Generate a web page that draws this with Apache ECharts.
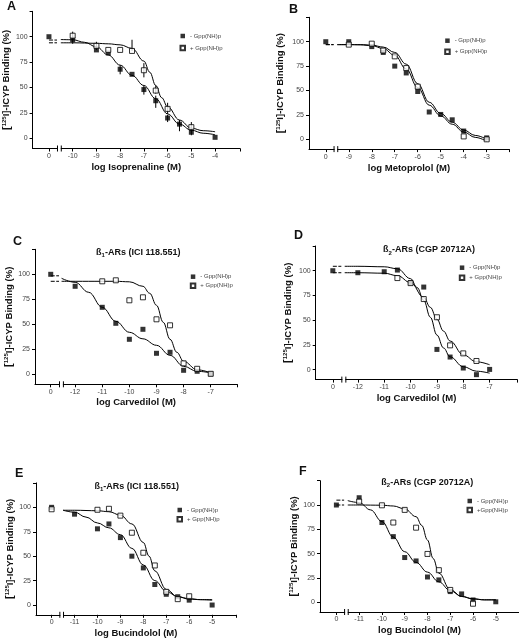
<!DOCTYPE html>
<html><head><meta charset="utf-8">
<script src="https://cdn.jsdelivr.net/npm/echarts@6/dist/echarts.min.js"></script>
<style>html,body{margin:0;padding:0;background:#fff}#c{width:519px;height:640px}</style>
</head><body><div id="c"></div><script>
// ---------- DATA ----------
// Panel A: Isoprenaline
const ticksA = [0, -10, -9, -8, -7, -6, -5, -4];
const minusA = [[0,100],[-10,97],[-9,87],[-8.5,84],[-8,68],[-7.5,63],[-7,48],[-6.5,37],[-6,20],[-5.5,14],[-5,6],[-4,1]];
const plusA = [[-10,101],[-9,91],[-8.5,87],[-8,87],[-7.5,86],[-7,67],[-6.5,47],[-6,29],[-5,11]];
const errMinusA = [[-10,93,101],[-8,63,72],[-7,43,52],[-6.5,30,42],[-6,16,23],[-5.5,7,18],[-5,3,8]];
const errPlusA = [[-10,97,105],[-9,87,95],[-7.5,86,97],[-7,60,74],[-6.5,44,52],[-6,24,35],[-5,7,16]];
const fitMinusA = [[-10.5,97.2],[-10,97],[-9.5,94.5],[-9,90],[-8.5,82],[-8,72],[-7.5,62],[-7,52],[-6.5,39],[-6,24],[-5.5,14],[-5,8],[-4.5,5],[-4,3.5]];
const fitPlusA = [[-10.5,94],[-10,94],[-9,93.5],[-8.5,93],[-8,92],[-7.5,88.5],[-7,76],[-6.75,65],[-6.5,52],[-6.25,40],[-6,31],[-5.5,18],[-5,10],[-4.5,7.5],[-4,6.5]];
const leadA = [96.7, 94];

// Panel B: Metoprolol
const ticksB = [0, -9, -8, -7, -6, -5, -4, -3];
const minusB = [[0,100],[-9,100],[-8,95],[-7.5,89],[-7,75],[-6.5,68],[-6,49],[-5.5,28],[-5,25.5],[-4.5,20],[-4,8.5],[-3,1.5]];
const plusB = [[-9,97],[-8,98],[-7.5,91],[-7,85],[-6.5,73],[-6,54],[-4,3],[-3,0]];
const fitMinusB = [[-9.5,97],[-9,97],[-8.5,96.8],[-8,96],[-7.5,93],[-7,86],[-6.5,72],[-6,53],[-5.5,35],[-5,24],[-4.5,15.5],[-4,7.5],[-3.5,2],[-3,-2]];
const fitPlusB = [[-9.5,97],[-9,97],[-8.5,97],[-8,96.5],[-7.5,94.5],[-7,89],[-6.5,77],[-6,57],[-5.5,38],[-5,26.5],[-4.5,17.5],[-4,9.5],[-3.5,4],[-3,0]];
const leadB = [97, 97];

// Panel C: Carvedilol, beta1
const ticksC = [0, -12, -11, -10, -9, -8, -7];
const minusC = [[0,100],[-12,88],[-11,67],[-10.5,51],[-10,35],[-9.5,45],[-9,21],[-8.5,22],[-8,4],[-7.5,3],[-7,0.5]];
const plusC = [[-11,93],[-10.5,94],[-10,74],[-9.5,77],[-9,55],[-8.5,49],[-8,11],[-7.5,5.5],[-7,0.5]];
const fitMinusC = [[-12.5,96],[-12,92],[-11.5,82],[-11,67],[-10.5,53],[-10,42],[-9.5,35.5],[-9,29],[-8.5,19],[-8,8],[-7.5,3],[-7,1.5]];
const fitPlusC = [[-12.5,93],[-12,93],[-11,93],[-10.5,93],[-10,92.5],[-9.5,88],[-9.25,81],[-9,69],[-8.75,52],[-8.5,35],[-8.25,22],[-8,13],[-7.5,4.5],[-7,1.5]];
const leadC = [98.5, 93];

// Panel D: Carvedilol, beta2
const ticksD = [0, -12, -11, -10, -9, -8, -7];
const minusD = [[0,100],[-12,98],[-11,99],[-10.5,100.7],[-10,88],[-9.5,83.5],[-9,20.5],[-8.5,12.8],[-8,1.7],[-7.5,-5],[-7,0.3]];
const plusD = [[-10.5,92.6],[-10,87.5],[-9.5,71.4],[-9,53],[-8.5,24.6],[-8,16.5],[-7.5,8.8]];
const fitMinusD = [[-12.5,104.5],[-12,104.5],[-11,104],[-10.5,102],[-10,92],[-9.75,83],[-9.5,70],[-9.25,53],[-9,35],[-8.75,22],[-8.5,13],[-8,3],[-7.5,-1.5],[-7,-3.5]];
const fitPlusD = [[-12.5,98],[-12,98],[-11,97.5],[-10.5,95],[-10,88],[-9.5,73],[-9.25,63],[-9,51],[-8.75,39],[-8.5,29],[-8,15],[-7.5,8],[-7,5]];
const leadD = [104.5, 98];

// Panel E: Bucindolol, beta1
const ticksE = [0, -11, -10, -9, -8, -7, -6, -5];
const minusE = [[0,100],[-11,93],[-10,78],[-9.5,83],[-9,69],[-8.5,50],[-8,38],[-7.5,21],[-7,11],[-6.5,8.5],[-6,5],[-5,0]];
const plusE = [[0,98],[-10,97.5],[-9.5,98.5],[-9,91.5],[-8.5,74],[-8,53.5],[-7.5,40.5],[-7,13.5],[-6.5,6],[-6,9]];
const fitMinusE = [[-11.5,97],[-11,95],[-10.5,90],[-10,84],[-9.5,79],[-9,72],[-8.5,58],[-8,41],[-7.5,25],[-7,14],[-6.5,8.5],[-6,6.5],[-5.5,5.5],[-5,5.5]];
const fitPlusE = [[-11.5,97],[-11,97],[-10,96.5],[-9.5,95.5],[-9,92],[-8.5,83],[-8,64],[-7.75,50],[-7.5,35],[-7,16],[-6.5,8.5],[-6,6],[-5.5,5.5],[-5,5]];

// Panel F: Bucindolol, beta2
const ticksF = [0, -11, -10, -9, -8, -7, -6, -5];
const minusF = [[0,100],[-11,107.5],[-10,82],[-9.5,67.5],[-9,46],[-8.5,42.5],[-8,26],[-7.5,23],[-7,11],[-6.5,8.6],[-6,2.4],[-5,0.5]];
const plusF = [[-11,103.5],[-10,99.7],[-9.5,82],[-9,95],[-8.5,76.7],[-8,49.7],[-7.5,33],[-7,12.7],[-6,-1.5]];
const fitMinusF = [[-11.5,104.5],[-11,102.5],[-10.5,95],[-10,83],[-9.5,67],[-9,52],[-8.5,41],[-8,31],[-7.5,21],[-7,12],[-6.5,6],[-6,3.5],[-5.5,2.5],[-5,2.5]];
const fitPlusF = [[-11.5,100],[-11,100],[-10,99.8],[-9.5,99],[-9,96],[-8.5,88],[-8.25,79],[-8,64],[-7.75,45],[-7.5,30],[-7,13],[-6.5,6],[-6,3.5],[-5.5,2.5],[-5,2.5]];
const leadF = [105, 100];

const yLabelTicks = [0, 25, 50, 75, 100];

// ---------- LAYOUT ----------
const FONT = '"Liberation Sans", Arial, sans-serif';
const panels = [
 {letter:'A', letterPos:[7,0], title:null, xname:'log Isoprenaline (M)', ticks:ticksA, minus:minusA, plus:plusA, fitM:fitMinusA, fitP:fitPlusA, lead:leadA, errM:errMinusA, errP:errPlusA,
  grid:{left:32,top:11.3,width:208,height:137.2}, xr:[-11.69,-2.95], zero:-11, yGap:17, xGap:14, legend:[182,36,12], plusName:'+ Gpp(NH)p'},
 {letter:'B', letterPos:[289,3], title:null, xname:'log Metoprolol (M)', ticks:ticksB, minus:minusB, plus:plusB, fitM:fitMinusB, fitP:fitPlusB, lead:leadB,
  grid:{left:309,top:17.3,width:200,height:131.8}, xr:[-10.73,-2.03], zero:-10, yGap:23, xGap:14, legend:[446.7,40.7,11], plusName:'+ Gpp(NH)p'},
 {letter:'C', letterPos:[13,235], title:'1-ARs (ICI 118.551)', titlePos:[138.3,252.7], xname:'log Carvedilol (M)', ticks:ticksC, minus:minusC, plus:plusC, fitM:fitMinusC, fitP:fitPlusC, lead:leadC,
  grid:{left:35,top:249.3,width:202.3,height:135}, xr:[-13.48,-6.02], zero:-12.9, yGap:18, xGap:13, legend:[192.3,276.7,9], plusName:'+ Gpp(NH)p'},
 {letter:'D', letterPos:[294,229], title:'2-ARs (CGP 20712A)', titlePos:[429,250], xname:'log Carvedilol (M)', ticks:ticksD, minus:minusD, plus:plusD, fitM:fitMinusD, fitP:fitPlusD, lead:leadD,
  grid:{left:315.7,top:246,width:201.6,height:133.6}, xr:[-13.6,-5.95], zero:-12.95, yGap:22, xGap:14, legend:[461.3,267.7,10], plusName:'+ Gpp(NH)p'},
 {letter:'E', letterPos:[15,467], title:'1-ARs (ICI 118.551)', titlePos:[136.7,486.7], xname:'log Bucindolol (M)', ticks:ticksE, minus:minusE, plus:plusE, fitM:fitMinusE, fitP:fitPlusE, lead:null,
  grid:{left:36,top:482.9,width:200,height:131.9}, xr:[-12.68,-3.96], zero:-12, yGap:20, xGap:14, legend:[179,510,9.3], plusName:'+ Gpp(NH)p'},
 {letter:'F', letterPos:[299,465], title:'2-ARs (CGP 20712A)', titlePos:[427.3,482.7], xname:'log Bucindolol (M)', ticks:ticksF, minus:minusF, plus:plusF, fitM:fitMinusF, fitP:fitPlusF, lead:leadF,
  grid:{left:320,top:480.7,width:199,height:131.3}, xr:[-12.72,-3.98], zero:-12, yGap:15, xGap:13, legend:[469,501,9], plusName:'+Gpp(NH)p'}
];
const MINUS = '- Gpp(NH)p';

const chart = echarts.init(document.getElementById('c'), null, {renderer:'canvas'});
const opt = {animation:false, backgroundColor:'#fff', grid:[], xAxis:[], yAxis:[], series:[], title:[], legend:[]};

function mapX(p, x){ return x === 0 ? p.zero : x; }

panels.forEach((p, i) => {
  opt.grid.push(Object.assign({containLabel:false}, p.grid));
  const real = p.ticks.filter(t => t !== 0);
  const first = real[0];
  const tickVals = [p.zero].concat(real);
  opt.xAxis.push({
    type:'value', gridIndex:i, min:p.xr[0], max:p.xr[1],
    axisLine:{onZero:false, lineStyle:{color:'#000', width:1}},
    axisTick:{show:true, length:3, lineStyle:{color:'#000'}, customValues: tickVals.concat([p.xr[1]])},
    axisLabel:{customValues: tickVals, margin:4, fontSize:7, color:'#444', fontFamily:FONT,
      formatter: v => Math.abs(v - p.zero) < 1e-6 ? '0' : String(Math.round(v))},
    splitLine:{show:false},
    name:p.xname, nameLocation:'middle', nameGap:p.xGap,
    nameTextStyle:{fontFamily:FONT, fontWeight:'bold', fontSize:9.5, color:'#111', verticalAlign:'top'}
  });
  opt.yAxis.push({
    type:'value', gridIndex:i, min:-10, max:125,
    axisLine:{onZero:false, lineStyle:{color:'#000', width:1}},
    axisTick:{show:true, length:3, lineStyle:{color:'#000'}, customValues: yLabelTicks.concat([125])},
    axisLabel:{customValues: yLabelTicks, margin:5, fontSize:7, color:'#444', fontFamily:FONT},
    splitLine:{show:false},
    name:'{k|[}{s|125}{b|I]-ICYP Binding (%)}', nameLocation:'middle', nameGap:p.yGap, nameRotate:90,
    nameTextStyle:{fontFamily:FONT, fontWeight:'bold', fontSize:9.5, color:'#111',
      rich:{k:{fontFamily:FONT, fontWeight:'bold', fontSize:11, color:'#111'},
            b:{fontFamily:FONT, fontWeight:'bold', fontSize:9.5, color:'#111'},
            s:{fontFamily:FONT, fontWeight:'bold', fontSize:6, color:'#111', verticalAlign:'top'}}}
  });
  // fitted curves
  const lineStyle = {color:'#000', width:1};
  [p.fitM, p.fitP].forEach(c => {
    opt.series.push({type:'line', xAxisIndex:i, yAxisIndex:i, data:c, showSymbol:false, smooth:0.4, smoothMonotone:'x',
      lineStyle:lineStyle, silent:true, z:2});
  });
  if (p.lead) {
    const b1 = p.zero + 0.34*(first - p.zero);
    p.lead.forEach(v => {
      opt.series.push({type:'line', xAxisIndex:i, yAxisIndex:i, data:[[p.zero, v],[b1, v]], showSymbol:false,
        lineStyle:{color:'#000', width:1, type:[4,1.5]}, silent:true, z:2});
    });
  }
  // error bars
  const errRender = (params, api) => {
    const a = api.coord([api.value(0), api.value(1)]);
    const b = api.coord([api.value(0), api.value(2)]);
    return {type:'line', shape:{x1:a[0], y1:a[1], x2:b[0], y2:b[1]}, style:{stroke:'#000', lineWidth:1}};
  };
  if (p.errM) opt.series.push({type:'custom', xAxisIndex:i, yAxisIndex:i, renderItem:errRender, data:p.errM, z:3, silent:true});
  if (p.errP) opt.series.push({type:'custom', xAxisIndex:i, yAxisIndex:i, renderItem:errRender, data:p.errP, z:3, silent:true});
  // points
  opt.series.push({name:MINUS, type:'scatter', xAxisIndex:i, yAxisIndex:i, symbol:'rect', symbolSize:5,
    data:p.minus.map(d => [mapX(p, d[0]), d[1]]), itemStyle:{color:'#000'}, z:5});
  opt.series.push({name:p.plusName, type:'scatter', xAxisIndex:i, yAxisIndex:i, symbol:'rect', symbolSize:5,
    data:p.plus.map(d => [mapX(p, d[0]), d[1]]), itemStyle:{color:'#fff', borderColor:'#000', borderWidth:1}, z:6});
  // legend
  opt.legend.push({left:p.legend[0]-2.5, top:p.legend[1]-4, orient:'vertical', itemWidth:4.5, itemHeight:4.5,
    itemGap:p.legend[2]-8, selectedMode:false, padding:0,
    textStyle:{fontSize:6, lineHeight:8, color:'#444', fontFamily:FONT},
    data:[MINUS, p.plusName]});
  // panel letter
  opt.title.push({text:p.letter, left:p.letterPos[0], top:p.letterPos[1], padding:0,
    textStyle:{fontFamily:FONT, fontWeight:'bold', fontSize:12.5, color:'#111'}});
  if (p.title) {
    opt.title.push({text:'{b|ß}{u|' + p.title.slice(0,1) + '}{b|' + p.title.slice(1) + '}',
      left:p.titlePos[0], top:p.titlePos[1]-6, textAlign:'center', padding:0,
      textStyle:{fontFamily:FONT, fontWeight:'bold', fontSize:9, color:'#111',
        rich:{b:{fontFamily:FONT, fontWeight:'bold', fontSize:9, color:'#111', lineHeight:12},
              u:{fontFamily:FONT, fontWeight:'bold', fontSize:6, color:'#111', verticalAlign:'bottom', lineHeight:9}}}});
  }
});

chart.setOption(opt);

// axis break marks
const gfx = [];
panels.forEach((p, i) => {
  const first = p.ticks.filter(t => t !== 0)[0];
  const b1 = p.zero + 0.36*(first - p.zero);
  const b2 = p.zero + 0.52*(first - p.zero);
  const q1 = chart.convertToPixel({xAxisIndex:i, yAxisIndex:i}, [b1, -10]);
  const q2 = chart.convertToPixel({xAxisIndex:i, yAxisIndex:i}, [b2, -10]);
  gfx.push({type:'rect', shape:{x:q1[0]+0.5, y:q1[1]-2, width:q2[0]-q1[0]-1, height:4}, style:{fill:'#fff'}, z:100});
  gfx.push({type:'line', shape:{x1:q1[0], y1:q1[1]-3, x2:q1[0], y2:q1[1]+3}, style:{stroke:'#000', lineWidth:1}, z:101});
  gfx.push({type:'line', shape:{x1:q2[0], y1:q2[1]-3, x2:q2[0], y2:q2[1]+3}, style:{stroke:'#000', lineWidth:1}, z:101});
});
chart.setOption({graphic: gfx});
</script></body></html>
